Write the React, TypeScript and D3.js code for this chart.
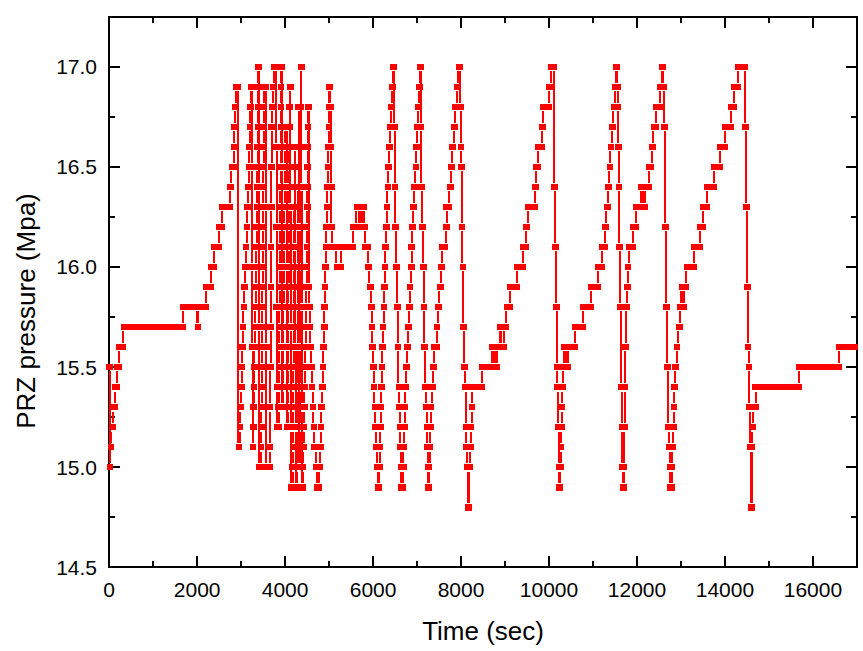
import React from 'react';
import * as d3 from 'd3';

// Each run: [t, value] (single sample) or [tStart, tEnd, value] (level held). Time in sec, pressure in MPa.
const startupRuns: number[][] = [
  [0, 15.5], [15, 15.0], [40, 15.1], [60, 70, 15.2], [85, 120, 15.3], [130, 160, 15.4], [175, 220, 15.5],
  [230, 310, 15.6], [340, 1670, 15.7], [1680, 1990, 15.8], [2015, 15.7], [2040, 2200, 15.8], [2210, 2310, 15.9],
  [2320, 2380, 16.0], [2390, 2490, 16.1], [2500, 2560, 16.2], [2570, 2740, 16.3], [2755, 2765, 16.4],
  [2790, 2830, 16.5], [2840, 16.6], [2855, 2865, 16.7], [2878, 2885, 16.8], [2895, 2915, 16.9],
];

const denseRuns: number[][] = [
  [2955, 15.1], [2975, 15.2], [2990, 15.3], [3003, 15.4], [3015, 15.5], [3030, 15.6], [3045, 15.7], [3061, 15.8],
  [3079, 15.9], [3095, 16.0], [3112, 16.1], [3135, 16.2], [3150, 16.3], [3165, 16.4], [3180, 16.5], [3195, 16.6],
  [3205, 16.7], [3215, 16.8], [3225, 3240, 16.9],
  [3246, 16.5], [3252, 16.0], [3258, 15.6], [3266, 15.1],
  [3275, 15.2], [3283, 15.3], [3291, 15.4], [3299, 15.5], [3307, 15.6], [3315, 15.7], [3323, 15.8], [3331, 15.9],
  [3339, 16.0], [3347, 16.1], [3355, 16.2], [3362, 16.3], [3368, 16.4], [3373, 16.5], [3378, 16.6], [3382, 16.7],
  [3385, 16.8], [3388, 16.9], [3390, 3400, 17.0],
  [3403, 16.4], [3406, 15.7], [3410, 3450, 15.0],
  [3454, 15.1], [3458, 15.2], [3462, 15.3], [3466, 15.4], [3470, 15.5], [3474, 15.6], [3478, 15.7], [3482, 15.8],
  [3486, 15.9], [3490, 16.0], [3494, 16.1], [3498, 16.2], [3502, 16.3], [3506, 16.4], [3510, 16.5], [3514, 16.6],
  [3518, 16.7], [3522, 16.8], [3526, 3560, 16.9],
  [3565, 16.3], [3570, 15.6], [3575, 3650, 15.0],
  [3655, 15.1], [3660, 15.3], [3665, 15.5], [3670, 15.7], [3675, 15.9], [3680, 16.1], [3685, 16.3], [3690, 16.5],
  [3695, 16.7], [3700, 3730, 16.8], [3738, 16.9], [3745, 3800, 17.0],
  [3804, 16.6], [3807, 16.2], [3810, 15.8], [3813, 15.4], [3816, 3850, 15.2],
  [3854, 15.3], [3858, 15.4], [3862, 15.5], [3866, 15.6], [3870, 15.7], [3874, 15.8], [3878, 15.9], [3882, 16.0],
  [3886, 16.1], [3889, 16.2], [3892, 16.3], [3895, 16.4], [3898, 16.5], [3901, 16.6], [3904, 16.7], [3907, 16.8],
  [3910, 16.9], [3913, 3918, 17.0],
  [3922, 16.5], [3926, 16.0], [3930, 15.6], [3934, 3944, 15.3],
  [3948, 15.4], [3952, 15.5], [3956, 15.6], [3960, 15.7], [3964, 15.8], [3968, 15.9], [3972, 16.0], [3976, 16.1],
  [3980, 16.2], [3984, 16.3], [3988, 16.4], [3992, 16.5], [3996, 16.6], [4000, 4030, 16.7],
  [4034, 16.4], [4038, 16.0], [4042, 15.6], [4046, 4056, 15.2],
  [4060, 15.3], [4063, 15.4], [4066, 15.5], [4069, 15.6], [4072, 15.7], [4075, 15.8], [4078, 15.9], [4081, 16.0],
  [4084, 16.1], [4087, 16.2], [4090, 16.3], [4093, 16.4], [4096, 16.5], [4099, 16.6], [4102, 16.7], [4105, 16.8],
  [4108, 4118, 16.9],
  [4122, 16.3], [4126, 15.7], [4130, 15.2], [4134, 4170, 14.9],
  [4174, 15.0], [4177, 15.1], [4180, 15.2], [4183, 15.3], [4186, 15.4], [4189, 15.5], [4192, 15.6], [4195, 15.7],
  [4198, 15.8], [4201, 15.9], [4204, 16.0], [4207, 16.1], [4210, 16.2], [4213, 16.3], [4216, 16.4], [4219, 16.5],
  [4222, 4228, 16.6],
  [4232, 16.1], [4236, 15.6], [4240, 15.2], [4244, 4270, 14.9],
  [4274, 15.0], [4278, 15.2], [4282, 15.4], [4286, 15.6], [4290, 15.8], [4294, 16.0], [4298, 16.2], [4302, 16.4],
  [4306, 16.6], [4310, 16.8],
  [4314, 16.2], [4317, 15.6], [4320, 4330, 15.0],
  [4334, 15.2], [4338, 15.4], [4342, 15.6], [4346, 15.8], [4350, 16.0], [4353, 16.2], [4356, 16.4], [4358, 16.6],
  [4360, 16.8], [4362, 4366, 17.0],
  [4372, 16.4], [4380, 15.8], [4386, 15.3], [4390, 4400, 14.9],
  [4405, 15.0], [4415, 15.1], [4425, 15.2], [4435, 15.3], [4445, 15.4], [4455, 15.5], [4463, 15.6], [4470, 15.7],
  [4478, 15.8], [4485, 15.9], [4490, 16.0], [4495, 16.1], [4500, 16.2], [4505, 16.3], [4508, 16.4], [4511, 16.5],
  [4514, 16.6], [4517, 16.7], [4520, 4530, 16.8],
  [4545, 15.9], [4560, 15.8], [4570, 15.7], [4580, 15.6], [4595, 15.5], [4615, 15.4], [4635, 15.3], [4655, 15.2],
  [4670, 4700, 15.1], [4710, 15.0], [4725, 4770, 14.9],
  [4785, 15.0], [4800, 15.1], [4815, 15.2], [4830, 15.3], [4845, 15.4], [4860, 15.5], [4875, 15.6], [4890, 15.7],
  [4900, 15.8], [4910, 15.9], [4920, 16.0], [4930, 16.1], [4945, 16.2], [4955, 16.3], [4965, 16.4], [4975, 16.5],
  [4985, 16.6], [4995, 16.7], [5005, 16.8], [5010, 5020, 16.9],
  [5030, 16.8], [5040, 16.6], [5050, 16.4], [5058, 16.2],
];

const cycleRunsA: number[][] = [
  [5065, 5160, 16.1], [5175, 5266, 16.0], [5285, 5540, 16.1], [5555, 5610, 16.2], [5630, 5680, 16.3], [5700, 16.2],
  [5720, 5740, 16.3], [5760, 16.2], [5775, 5790, 16.3], [5805, 16.2],
  [5825, 5880, 16.1], [5891, 16.0], [5936, 15.9], [5959, 15.8], [5978, 15.7], [5993, 15.6], [6005, 15.5],
  [6024, 15.4], [6039, 15.3], [6061, 15.2], [6084, 15.1], [6100, 15.0], [6110, 6130, 14.9],
];

const cycleRunsB: number[][] = [
  [6145, 15.0], [6155, 15.1], [6165, 15.2], [6175, 15.3], [6190, 15.4], [6198, 15.5], [6208, 15.6], [6228, 15.7],
  [6250, 15.8], [6263, 15.9], [6275, 16.0], [6288, 16.1], [6300, 16.2], [6312, 16.3], [6340, 16.4], [6355, 16.5],
  [6367, 16.6], [6385, 16.7], [6420, 16.8], [6435, 16.9], [6450, 6462, 17.0],
  [6480, 16.7], [6495, 16.4], [6515, 16.2], [6535, 16.0], [6550, 15.8], [6570, 15.6], [6585, 15.4], [6598, 15.3],
  [6610, 15.2], [6620, 15.1], [6630, 15.0], [6640, 6672, 14.9],
  [6685, 15.0], [6697, 15.1], [6710, 15.2], [6725, 15.3], [6740, 15.4], [6766, 15.5], [6789, 15.6], [6811, 15.7],
  [6823, 15.8], [6836, 15.9], [6868, 16.0], [6880, 16.1], [6893, 16.2], [6914, 16.3], [6948, 16.4], [6971, 16.5],
  [6982, 16.6], [7000, 16.7], [7027, 16.8], [7050, 16.9], [7065, 7075, 17.0],
  [7090, 16.7], [7107, 16.4], [7125, 16.2], [7141, 16.0], [7160, 15.8], [7175, 15.6], [7195, 15.4], [7215, 15.3],
  [7225, 15.2], [7235, 15.1], [7245, 15.0], [7252, 7260, 14.9],
];

const cycleRunsC: number[][] = [
  [7275, 15.0], [7290, 15.1], [7302, 15.2], [7315, 15.3], [7350, 15.4], [7368, 15.5], [7385, 7440, 15.6],
  [7455, 15.7], [7482, 15.8], [7527, 15.9], [7560, 16.0], [7580, 7630, 16.1], [7664, 16.2], [7675, 7710, 16.3],
  [7755, 16.4], [7777, 16.5], [7795, 7820, 16.6], [7840, 7860, 16.7], [7880, 7900, 16.8], [7925, 16.9],
  [7950, 7965, 17.0],
  [7985, 16.8], [7998, 16.6], [8010, 16.5], [8025, 16.2], [8040, 16.0], [8062, 15.7], [8080, 15.5], [8096, 15.4],
  [8110, 15.2], [8130, 15.1], [8150, 15.0], [8176, 14.8],
];

const cycleRunsD: number[][] = [
  [8198, 15.0], [8212, 15.1], [8225, 15.2], [8250, 15.3], [8266, 8471, 15.4], [8494, 8690, 15.5], [8705, 15.6],
  [8730, 15.5], [8760, 15.6], [8790, 8812, 15.5], [8830, 8870, 15.6], [8885, 8900, 15.7], [8920, 8980, 15.6],
  [8995, 9016, 15.7], [9040, 9107, 15.8], [9130, 9265, 15.9], [9289, 9400, 16.0], [9410, 9465, 16.1], [9494, 16.2],
  [9540, 9676, 16.3], [9687, 16.4], [9721, 9750, 16.5], [9767, 9835, 16.6], [9846, 16.7], [9880, 9990, 16.8],
  [10005, 10040, 16.9], [10060, 10110, 17.0],
  [10130, 16.4], [10150, 16.1], [10168, 15.8], [10180, 15.5], [10195, 15.4], [10210, 15.2], [10225, 15.0],
  [10235, 10245, 14.9],
];

const cycleRunsE: number[][] = [
  [10258, 15.0], [10268, 15.1], [10278, 15.2], [10290, 15.3], [10305, 15.4], [10320, 10335, 15.5], [10350, 15.6],
  [10365, 15.5], [10380, 15.6], [10395, 10420, 15.5], [10440, 10590, 15.6], [10607, 10770, 15.7],
  [10790, 10940, 15.8], [10960, 11100, 15.9], [11110, 11190, 16.0], [11215, 11265, 16.1], [11289, 16.2],
  [11323, 16.3], [11357, 16.4], [11385, 16.5], [11410, 16.6], [11450, 16.7], [11480, 16.8], [11505, 16.9],
  [11528, 11545, 17.0],
  [11555, 16.9], [11565, 16.8], [11580, 16.6], [11592, 16.4], [11608, 16.1], [11630, 15.8], [11650, 15.4],
  [11662, 15.2], [11675, 15.0], [11685, 11692, 14.9],
];

const cycleRunsF: number[][] = [
  [11705, 15.0], [11715, 15.2], [11725, 15.4], [11740, 15.6], [11760, 15.8], [11778, 15.9], [11800, 16.0],
  [11815, 11905, 16.1], [11926, 11970, 16.2], [11980, 12080, 16.3], [12095, 16.4], [12110, 16.3],
  [12125, 12150, 16.4], [12170, 16.3], [12185, 12260, 16.4], [12270, 12310, 16.5], [12350, 16.6],
  [12385, 12420, 16.7], [12450, 12510, 16.8], [12520, 12555, 16.9], [12570, 12595, 17.0], [12610, 16.9],
  [12630, 16.7], [12653, 16.2], [12676, 15.8], [12695, 15.5], [12712, 15.2], [12730, 15.1], [12750, 15.0],
  [12765, 12785, 14.9],
];

const cycleRunsG: number[][] = [
  [12800, 15.0], [12812, 15.1], [12825, 15.2], [12840, 15.3], [12855, 15.4], [12865, 12885, 15.5], [12914, 15.6],
  [12960, 15.7], [12975, 13000, 15.8], [13020, 15.9], [13040, 13060, 15.8], [13080, 13110, 15.9],
  [13135, 13300, 16.0], [13312, 13420, 16.1], [13430, 13490, 16.2], [13500, 13580, 16.3], [13590, 13740, 16.4],
  [13750, 13875, 16.5], [13885, 13990, 16.6], [14000, 14125, 16.7], [14135, 14195, 16.8], [14205, 14290, 16.9],
  [14312, 14460, 17.0],
  [14472, 16.7], [14490, 16.3], [14506, 15.9], [14528, 15.6], [14545, 15.5], [14560, 15.3], [14578, 15.1],
  [14597, 14.8],
];

const tailRuns: number[][] = [
  [14612, 15.1], [14640, 15.2], [14655, 14690, 15.3], [14700, 15677, 15.4], [15700, 16590, 15.5],
  [16610, 16950, 15.6],
];

const xMajorTicks = [0, 2000, 4000, 6000, 8000, 10000, 12000, 14000, 16000];
const xMinorTicks = [1000, 3000, 5000, 7000, 9000, 11000, 13000, 15000];
const yMajorTicks = [14.5, 15.0, 15.5, 16.0, 16.5, 17.0];
const yMinorTicks = [14.75, 15.25, 15.75, 16.25, 16.75];
const yTickLabels = ['14.5', '15.0', '15.5', '16.0', '16.5', '17.0'];

const xTitle = 'Time (sec)';
const yTitle = 'PRZ pressure (Mpa)';

const FONT = "'Liberation Sans', Arial, Helvetica, sans-serif";
const RED = '#ff0000';

export default function App() {
  const W = 863, H = 651;
  const left = 109.2, right = 856.9, top = 16.8, bottom = 567.4;
  const x = d3.scaleLinear().domain([0, 17000]).range([left, right]);
  const y = d3.scaleLinear().domain([14.5, 17.25]).range([bottom, top]);

  const runs = [
    ...startupRuns, ...denseRuns, ...cycleRunsA, ...cycleRunsB, ...cycleRunsC,
    ...cycleRunsD, ...cycleRunsE, ...cycleRunsF, ...cycleRunsG, ...tailRuns,
  ].map(r => (r.length === 2 ? { t0: r[0], t1: r[0], v: r[1] } : { t0: r[0], t1: r[1], v: r[2] }));

  const mw = 6.6, mh = 6.4, gap = 4.3;
  let segPath = '';
  for (let i = 0; i < runs.length - 1; i++) {
    const a = runs[i], b = runs[i + 1];
    const x1 = x(a.t1), y1 = y(a.v), x2 = x(b.t0), y2 = y(b.v);
    const xm = Math.round((x1 + x2) / 2);
    const dy = y2 - y1;
    const s = Math.sign(dy);
    if (Math.abs(dy) > 2 * gap) {
      segPath += `M${xm},${y1 + s * gap}V${y2 - s * gap}`;
    }
    if (xm - x1 > mw / 2 + 1) segPath += `M${x1 + mw / 2 + 1},${y1}H${xm}`;
    if (x2 - xm > mw / 2 + 1) segPath += `M${xm},${y2}H${x2 - mw / 2 - 1}`;
  }

  const majorLen = 11, minorLen = 6;
  const tickStroke = { stroke: '#000', strokeWidth: 2 };

  return (
    <svg width={W} height={H} style={{ position: 'absolute', left: 0, top: 0, background: '#fff' }}
      fontFamily={FONT}>
      <rect x={0} y={0} width={W} height={H} fill="#fff" />
      <g shapeRendering="crispEdges">
        {xMajorTicks.map(t => (
          <g key={'xM' + t}>
            <line x1={x(t)} x2={x(t)} y1={bottom} y2={bottom - majorLen} {...tickStroke} />
            <line x1={x(t)} x2={x(t)} y1={top} y2={top + majorLen} {...tickStroke} />
          </g>
        ))}
        {xMinorTicks.map(t => (
          <g key={'xm' + t}>
            <line x1={x(t)} x2={x(t)} y1={bottom} y2={bottom - minorLen} {...tickStroke} />
            <line x1={x(t)} x2={x(t)} y1={top} y2={top + minorLen} {...tickStroke} />
          </g>
        ))}
        {yMajorTicks.map(v => (
          <g key={'yM' + v}>
            <line x1={left} x2={left + majorLen} y1={y(v)} y2={y(v)} {...tickStroke} />
            <line x1={right} x2={right - majorLen} y1={y(v)} y2={y(v)} {...tickStroke} />
          </g>
        ))}
        {yMinorTicks.map(v => (
          <g key={'ym' + v}>
            <line x1={left} x2={left + minorLen} y1={y(v)} y2={y(v)} {...tickStroke} />
            <line x1={right} x2={right - minorLen} y1={y(v)} y2={y(v)} {...tickStroke} />
          </g>
        ))}
        <rect x={left} y={top} width={right - left} height={bottom - top} fill="none" stroke="#000" strokeWidth={2.2} />
      </g>
      <path d={segPath} fill="none" stroke={RED} strokeWidth={2} shapeRendering="crispEdges" />
      <g fill={RED} shapeRendering="crispEdges">
        {runs.map((r, i) => (
          <rect key={i} x={x(r.t0) - mw / 2} y={y(r.v) - mh / 2} width={x(r.t1) - x(r.t0) + mw} height={mh} />
        ))}
      </g>
      <g fontSize={21} fill="#000">
        {yMajorTicks.map((v, i) => (
          <text key={'yl' + v} x={97} y={y(v) + 7.4} textAnchor="end">{yTickLabels[i]}</text>
        ))}
        {xMajorTicks.map(t => (
          <text key={'xl' + t} x={x(t)} y={596.7} textAnchor="middle">{String(t)}</text>
        ))}
      </g>
      <text x={(left + right) / 2} y={640} textAnchor="middle" fontSize={26} fill="#000">{xTitle}</text>
      <text transform="translate(35,311) rotate(-90)" textAnchor="middle" fontSize={26} fill="#000">{yTitle}</text>
    </svg>
  );
}
